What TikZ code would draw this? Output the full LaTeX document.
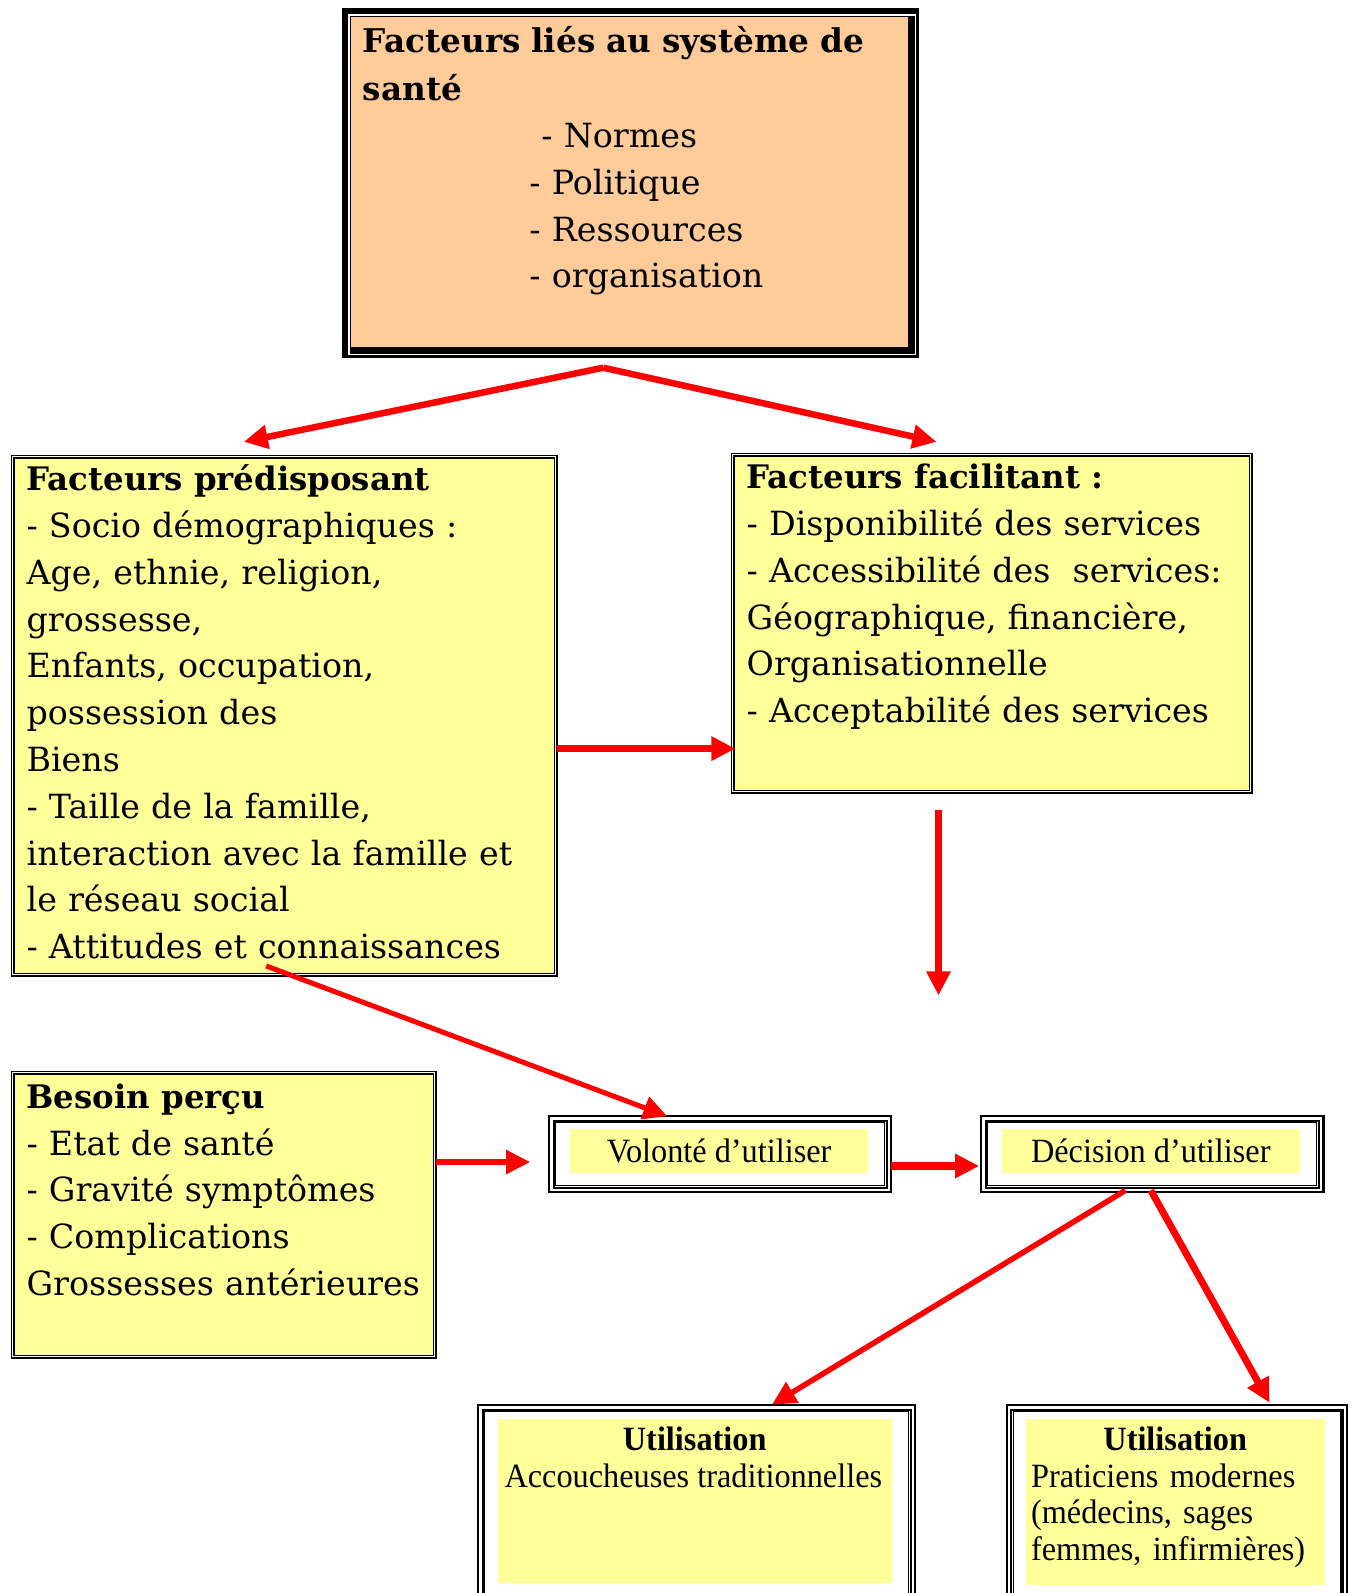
\documentclass[tikz,border=0pt]{standalone}
\usepackage{fontspec}
\setmainfont{DejaVu Serif}
\newfontfamily\tnr[FakeStretch=0.95]{Liberation Serif}
\usetikzlibrary{arrows.meta,calc}
\definecolor{boxyellow}{HTML}{FFFF99}
\definecolor{boxpeach}{HTML}{FFCC99}
\newcommand{\boldhead}[1]{{\bfseries\fontsize{32.4}{46.8}\selectfont #1}}
\begin{document}
\begin{tikzpicture}[x=1pt,y=-1pt,
  redarrow/.style={draw=red, line width=#1, -{Triangle[length=24pt,width=23pt]}},
  mainfont/.style={font=\fontsize{33.3}{46.8}\selectfont},
  txt/.style={anchor=north west, inner sep=0pt, align=left, text width=620pt},
  dbox/.style={draw=black, line width=1.3pt, double=white, double distance=1.6pt, fill=boxyellow, inner sep=0pt, anchor=north west},
  tbox/.style={draw=black, line width=2.2pt, double=white, double distance=2.2pt, fill=white, inner sep=0pt, anchor=north west},
  smallfont/.style={font=\tnr\fontsize{34}{36.6}\selectfont},
  thinline/.style={draw=black, line width=0.9pt}
]
\useasboundingbox (0,0) rectangle (1355,1593);

% ---------- top box ----------
\node[fill=black, anchor=north west, inner sep=0pt, minimum width=577pt, minimum height=350pt] (sys) at (342,8) {};
\draw[white, line width=1.2pt] ($(sys.north west)+(7,7)$) rectangle ($(sys.south east)+(-4,-4)$);
\fill[boxpeach] ($(sys.north west)+(9,9)$) rectangle ($(sys.south east)+(-11,-11)$);
\node[txt, font=\bfseries\fontsize{32.7}{47.8}\selectfont] (systitle) at (362.6,19.3) {\strut Facteurs liés au système de\\santé};
\node[txt, mainfont] (sysitems) at (529.2,114.6) {\strut\hspace*{12pt}- Normes\\- Politique\\- Ressources\\- organisation};

% ---------- predisposing ----------
\node[dbox, minimum width=543pt, minimum height=518pt] (pred) at (12,456) {};
\node[txt, mainfont] (predtxt) at (26.4,457.8) {\strut\boldhead{Facteurs prédisposant}\\- Socio démographiques :\\Age, ethnie, religion,\\grossesse,\\Enfants, occupation,\\possession des\\Biens\\- Taille de la famille,\\interaction avec la famille et\\le réseau social\\- Attitudes et connaissances};

% ---------- facilitating ----------
\node[dbox, minimum width=518pt, minimum height=337pt] (facil) at (732,454) {};
\node[txt, mainfont] (faciltxt) at (746.5,455.8) {\strut\boldhead{Facteurs facilitant :}\\- Disponibilité des services\\- Accessibilité des\ \ services:\\Géographique, financière,\\Organisationnelle\\- Acceptabilité des services};

% ---------- besoin ----------
\node[dbox, minimum width=422pt, minimum height=284pt] (besoin) at (12,1072) {};
\node[txt, mainfont] (besointxt) at (26.4,1075.3) {\strut\boldhead{Besoin perçu}\\- Etat de santé\\- Gravité symptômes\\- Complications\\Grossesses antérieures};

% ---------- volonte ----------
\node[tbox, minimum width=337.4pt, minimum height=71.4pt] (vol) at (550.3,1117.3) {};
\draw[thinline] ($(vol.north west)+(5.5,5.5)$) rectangle ($(vol.south east)+(-5.5,-5.5)$);
\node[fill=boxyellow, inner sep=0pt, minimum width=298.6pt, minimum height=44.7pt, smallfont] (voltxt) at (719.1,1151) {Volonté d’utiliser};

% ---------- decision ----------
\node[tbox, minimum width=337.9pt, minimum height=71.4pt] (dec) at (982.3,1117.3) {};
\draw[thinline] ($(dec.north west)+(5.5,5.5)$) rectangle ($(dec.south east)+(-5.5,-5.5)$);
\node[fill=boxyellow, inner sep=0pt, minimum width=298.6pt, minimum height=44.7pt, smallfont] (dectxt) at (1150.8,1151) {Décision d’utiliser};

% ---------- utilisation traditionnelle ----------
\node[tbox, minimum width=432.4pt, minimum height=220pt] (utrad) at (479.3,1406.3) {};
\draw[thinline] ($(utrad.north west)+(5.5,5.5)$) rectangle ($(utrad.south east)+(-5.5,-5.5)$);
\fill[boxyellow] (497.7,1419) rectangle (891.8,1582.5);
\node[font=\tnr\bfseries\fontsize{34}{36.6}\selectfont] (utradhead) at (694.7,1439.2) {Utilisation};
\node[smallfont, anchor=base west, inner sep=0pt] (utradtxt) at (504.3,1487) {Accoucheuses traditionnelles};

% ---------- utilisation moderne ----------
\node[tbox, minimum width=335.7pt, minimum height=220pt] (umod) at (1007.8,1406.3) {};
\draw[thinline] ($(umod.north west)+(5.5,5.5)$) rectangle ($(umod.south east)+(-5.5,-5.5)$);
\fill[boxyellow] (1025.9,1419) rectangle (1324.5,1584.5);
\node[font=\tnr\bfseries\fontsize{34}{36.6}\selectfont] (umodhead) at (1175.2,1439.2) {Utilisation};
\node[smallfont, anchor=north west, inner sep=0pt, align=left, text width=300pt] (umodtxt) at (1030.9,1461.4) {\strut Praticiens modernes\\(médecins, sages\\femmes, infirmières)};

% ---------- connectors ----------
\coordinate (sysout) at (603.3,367.7);
\coordinate (predin) at (243.8,441.8);
\coordinate (facilin) at (936.5,441.8);
\coordinate (predout) at (556.6,748.6);
\coordinate (facilleft) at (735.4,748.6);
\coordinate (facilout) at (938.5,809.5);
\coordinate (facildown) at (938.5,995.4);
\coordinate (predbottom) at (266.1,965.9);
\coordinate (volin) at (667.3,1116.3);
\coordinate (besoinout) at (435.7,1162);
\coordinate (volleft) at (530.2,1162);
\coordinate (volout) at (890.8,1166);
\coordinate (decin) at (979.1,1166);
\coordinate (decout1) at (1125.4,1190.4);
\coordinate (utradin) at (771.9,1404.7);
\coordinate (decout2) at (1150.8,1190.4);
\coordinate (umodin) at (1269.6,1402.7);

\draw[redarrow=6.5pt] (sysout) -- (predin);
\draw[redarrow=6.5pt] (sysout) -- (facilin);
\draw[redarrow=7.5pt] (predout) -- (facilleft);
\draw[redarrow=7pt] (facilout) -- (facildown);
\draw[redarrow=5pt] (predbottom) -- (volin);
\draw[redarrow=5.5pt] (besoinout) -- (volleft);
\draw[redarrow=7.5pt] (volout) -- (decin);
\draw[redarrow=5.5pt] (decout1) -- (utradin);
\draw[redarrow=7pt] (decout2) -- (umodin);
\end{tikzpicture}
\end{document}
